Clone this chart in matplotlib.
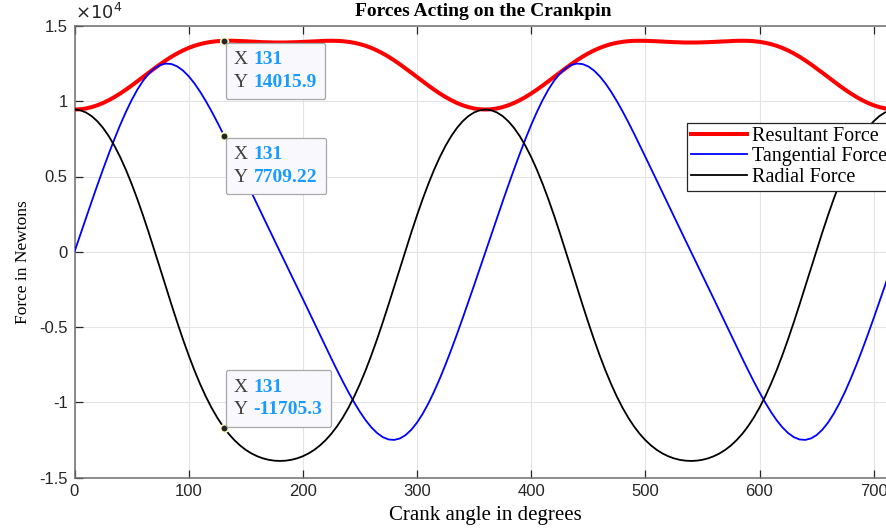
import numpy as np
import matplotlib
matplotlib.use("Agg")
import matplotlib.pyplot as plt
from matplotlib.offsetbox import TextArea, HPacker, VPacker, AnnotationBbox

# one crank revolution, 0..360 deg in 5 deg steps
step = 5
resultant = [9450, 9468, 9521, 9610, 9732, 9885, 10069, 10280, 10514, 10769,
             11039, 11321, 11609, 11898, 12182, 12457, 12718, 12960, 13180, 13375,
             13543, 13684, 13797, 13885, 13948, 13990, 14013, 14020, 14016, 14004,
             13986, 13965, 13945, 13926, 13912, 13903, 13900, 13903, 13912, 13926,
             13945, 13965, 13986, 14004, 14016, 14020, 14013, 13990, 13948, 13885,
             13797, 13684, 13543, 13375, 13180, 12960, 12718, 12457, 12182, 11898,
             11609, 11321, 11039, 10769, 10514, 10280, 10069, 9885, 9732, 9610,
             9521, 9468, 9450]
tangential = [0, 1118, 2230, 3332, 4418, 5479, 6507, 7493, 8423, 9287,
              10072, 10765, 11354, 11829, 12182, 12407, 12503, 12471, 12315, 12043,
              11664, 11192, 10637, 10015, 9338, 8619, 7869, 7097, 6311, 5519,
              4724, 3929, 3137, 2349, 1564, 781, 0, -781, -1564, -2349,
              -3137, -3929, -4724, -5519, -6311, -7097, -7869, -8619, -9338, -10015,
              -10637, -11192, -11664, -12043, -12315, -12471, -12503, -12407, -12182, -11829,
              -11354, -10765, -10072, -9287, -8423, -7493, -6507, -5479, -4418, -3332,
              -2230, -1118, 0]
radial = [9450, 9402, 9256, 9013, 8671, 8228, 7684, 7038, 6293, 5451,
          4519, 3505, 2420, 1277, 94, -1113, -2326, -3526, -4695, -5818,
          -6881, -7874, -8787, -9617, -10360, -11019, -11595, -12092, -12515, -12870,
          -13164, -13401, -13587, -13727, -13824, -13881, -13900, -13881, -13824, -13727,
          -13587, -13401, -13164, -12870, -12515, -12092, -11595, -11019, -10360, -9617,
          -8787, -7874, -6881, -5818, -4695, -3526, -2326, -1113, 94, 1277,
          2420, 3505, 4519, 5451, 6293, 7038, 7684, 8228, 8671, 9013,
          9256, 9402, 9450]

# data tips
tip_x = 131
tip_vals = [14015.9, 7709.22, -11705.3]
tip_text = ["14015.9", "7709.22", "-11705.3"]
tip_side = ["below", "below", "above"]

xticks = [0, 100, 200, 300, 400, 500, 600, 700]
yticks = [-15000, -10000, -5000, 0, 5000, 10000, 15000]
ylabels = ["-1.5", "-1", "-0.5", "0", "0.5", "1", "1.5"]

# two revolutions (720 deg)
angle = np.arange(0, 721, step)
res2 = np.concatenate([resultant, resultant[1:]])
tan2 = np.concatenate([tangential, tangential[1:]])
rad2 = np.concatenate([radial, radial[1:]])

serif = "Liberation Serif"
sans = "Liberation Sans"
dark = "#262626"

fig = plt.figure(figsize=(8.86, 5.31), dpi=100)
# axes run past the right edge of the picture, like the cropped original
ax = fig.add_axes([74.5 / 886, 53.5 / 531, 822 / 886, 451.5 / 531])

ax.plot(angle, res2, color="red", lw=2.9, label="Resultant Force", zorder=3)
ax.plot(angle, tan2, color="blue", lw=1.3, label="Tangential Force", zorder=3)
ax.plot(angle, rad2, color="black", lw=1.3, label="Radial Force", zorder=3)

ax.set_xlim(0, 720)
ax.set_ylim(-15000, 15000)
ax.set_xticks(xticks)
ax.set_yticks(yticks)
ax.set_yticklabels(ylabels)
ax.grid(True, color="#e3e3e3", lw=0.8)
ax.set_axisbelow(True)
ax.tick_params(direction="in", length=5.5, width=0.9, color=dark,
               top=True, right=True, labelsize=12, labelcolor=dark)
for lab in ax.get_xticklabels() + ax.get_yticklabels():
    lab.set_family(sans)
ax.tick_params(axis="x", pad=5)
ax.tick_params(axis="y", pad=5)
for sp in ax.spines.values():
    sp.set_color("#6e6e6e")
    sp.set_linewidth(1.1)

ax.set_xlabel("Crank angle in degrees", family=serif, fontsize=15, labelpad=5)
ax.set_ylabel("Force in Newtons", family=serif, fontsize=12.5)
ax.yaxis.set_label_coords(-0.053, 0.477)
fig.text(483 / 886, 1 - 12 / 531, "Forces Acting on the Crankpin", family=serif,
         fontweight="bold", fontsize=14, ha="center", va="center")
fig.text(75 / 886, 1 - 13 / 531, r"$\times10^{4}$", fontsize=13, color=dark,
         ha="left", va="center")

leg = ax.legend(loc="upper left", bbox_to_anchor=(687 / 886, 1 - 122.5 / 531),
                bbox_transform=fig.transFigure, prop={"family": serif, "size": 14.5},
                frameon=True, fancybox=False, edgecolor=dark, framealpha=1,
                borderpad=0.2, labelspacing=0.08, handlelength=2.8,
                handletextpad=0.25, borderaxespad=0)
leg.get_frame().set_linewidth(0.9)

# data tips: dot + label box
gray = dict(family=serif, size=14, color="#404040")
blue = dict(family=serif, size=14, color="#1a9bff", weight="bold")
for yv, txt, side in zip(tip_vals, tip_text, tip_side):
    ax.plot([tip_x], [yv], "o", ms=5.5, color=dark, mec="#ffffcc", mew=1.2,
            zorder=6)
    row1 = HPacker(children=[TextArea("X", textprops=gray),
                             TextArea("131", textprops=blue)], sep=4, pad=0)
    row2 = HPacker(children=[TextArea("Y", textprops=gray),
                             TextArea(txt, textprops=blue)], sep=4, pad=0)
    box = VPacker(children=[row1, row2], sep=4, pad=6, align="left")
    if side == "below":
        off = (1.2, -1.5)
        align = (0, 1)
    else:
        off = (1.2, 1)
        align = (0, 0)
    ab = AnnotationBbox(box, (tip_x, yv), xybox=off, boxcoords="offset points",
                        box_alignment=align, pad=0, frameon=True, zorder=7,
                        bboxprops=dict(boxstyle="round,pad=0,rounding_size=0.15",
                                       fc="#f8f8fd", ec="#a8a8a8", lw=0.9))
    ax.add_artist(ab)

fig.savefig("out.png", dpi=100)
